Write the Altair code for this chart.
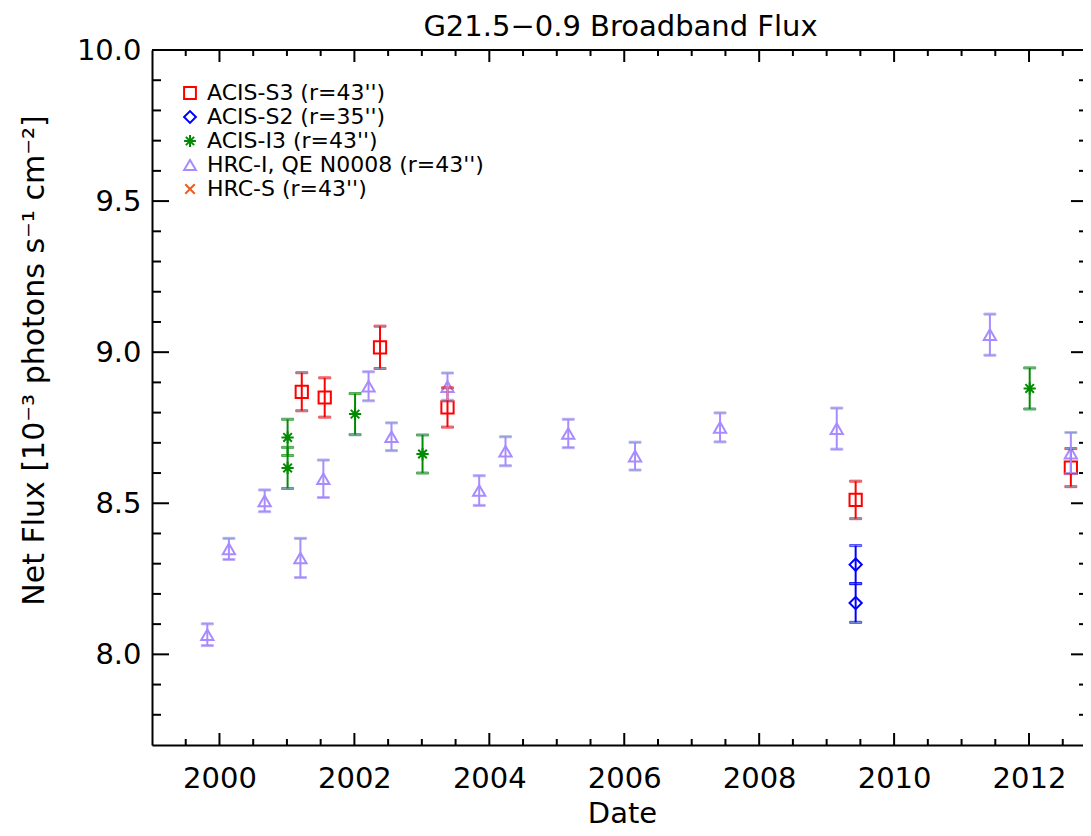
import altair as alt
import pandas as pd

# ---------------- data ----------------
series_names = ["ACIS-S3 (r=43'')", "ACIS-S2 (r=35'')", "ACIS-I3 (r=43'')",
                "HRC-I, QE N0008 (r=43'')", "HRC-S (r=43'')"]
series_colors = ["#ff0000", "#0000ff", "#008b00", "#a88cff", "#f05a1e"]
ASTERISK = "M-1,0L1,0M0,-1L0,1M-0.7,-0.7L0.7,0.7M-0.7,0.7L0.7,-0.7"
XMARK = "M-0.8,-0.8L0.8,0.8M-0.8,0.8L0.8,-0.8"
series_shapes = ["square", "diamond", ASTERISK, "triangle-up", XMARK]

s3_date = [2001.22, 2001.56, 2002.38, 2003.38, 2009.43, 2012.62]
s3_flux = [8.869, 8.850, 9.016, 8.817, 8.511, 8.618]
s3_err = [0.063, 0.065, 0.070, 0.065, 0.062, 0.063]

s2_date = [2009.43, 2009.43]
s2_flux = [8.297, 8.170]
s2_err = [0.063, 0.064]

i3_date = [2001.01, 2001.01, 2002.01, 2003.01, 2012.01]
i3_flux = [8.718, 8.617, 8.795, 8.663, 8.880]
i3_err = [0.060, 0.068, 0.068, 0.063, 0.068]

hrci_date = [1999.82, 2000.14, 2000.67, 2001.20, 2001.54, 2002.21, 2002.55, 2003.38,
             2003.85, 2004.24, 2005.17, 2006.16, 2007.42, 2009.15, 2011.42, 2012.62]
hrci_flux = [8.065, 8.349, 8.508, 8.319, 8.581, 8.887, 8.720, 8.886,
             8.542, 8.672, 8.731, 8.656, 8.751, 8.747, 9.058, 8.666]
hrci_err = [0.036, 0.035, 0.036, 0.065, 0.062, 0.048, 0.046, 0.045,
            0.049, 0.048, 0.047, 0.046, 0.048, 0.068, 0.068, 0.068]

x_major = [2000, 2002, 2004, 2006, 2008, 2010, 2012]
x_minor = [1999.5, 2000.5, 2001, 2001.5, 2002.5, 2003, 2003.5, 2004.5, 2005, 2005.5,
           2006.5, 2007, 2007.5, 2008.5, 2009, 2009.5, 2010.5, 2011, 2011.5, 2012.5]
y_major = [8.0, 8.5, 9.0, 9.5, 10.0]
y_minor = [7.8, 7.9, 8.1, 8.2, 8.3, 8.4, 8.6, 8.7, 8.8, 8.9,
           9.1, 9.2, 9.3, 9.4, 9.6, 9.7, 9.8, 9.9]

x_domain = [1999.0, 2012.80]
y_domain = [7.7, 10.0]

# ---------------- table ----------------
rows = []
for name, dates, flux, err in [
    (series_names[0], s3_date, s3_flux, s3_err),
    (series_names[1], s2_date, s2_flux, s2_err),
    (series_names[2], i3_date, i3_flux, i3_err),
    (series_names[3], hrci_date, hrci_flux, hrci_err),
]:
    for d, f, e in zip(dates, flux, err):
        rows.append({"series": name, "date": d, "flux": f, "lo": f - e, "hi": f + e})
df = pd.DataFrame(rows)

W, H = 931, 695
FONT = "DejaVu Sans"

x_scale = alt.Scale(domain=x_domain, nice=False, zero=False)
y_scale = alt.Scale(domain=y_domain, nice=False, zero=False)
color_scale = alt.Scale(domain=series_names, range=series_colors)
shape_scale = alt.Scale(domain=series_names, range=series_shapes)

legend = alt.Legend(
    title=None, orient="none", legendX=27, legendY=32,
    labelFont=FONT, labelFontSize=22, labelColor="black",
    symbolSize=140, symbolStrokeWidth=2, labelOffset=6, rowPadding=2,
    labelLimit=400,
)

x_axis = alt.Axis(
    values=x_major, format="d", ticks=False, tickSize=0, grid=False,
    domainColor="black", domainWidth=2, labelFont=FONT, labelFontSize=29,
    labelColor="black", labelPadding=19, labelFlush=False, labelOverlap=False,
    title="Date", titleFont=FONT, titleFontSize=29, titleFontWeight="normal",
    titleColor="black", titleX=470, titleY=77, titleBaseline="alphabetic",
)
y_axis = alt.Axis(
    values=y_major, format=".1f", ticks=False, tickSize=0, grid=False,
    domainColor="black", domainWidth=2, labelFont=FONT, labelFontSize=29,
    labelColor="black", labelPadding=11, labelFlush=False, labelOverlap=False,
    title="Net Flux [10⁻³ photons s⁻¹ cm⁻²]", titleFont=FONT, titleFontSize=30,
    titleFontWeight="normal", titleColor="black", titleAngle=270,
    titleX=-109, titleY=310, titleAlign="center", titleBaseline="alphabetic",
)


def vticks(vals, y0, y1):
    return alt.Chart(pd.DataFrame({"v": vals})).mark_rule(color="black", strokeWidth=2).encode(
        x=alt.X("v:Q", scale=x_scale, axis=x_axis), y=alt.value(y0), y2=alt.value(y1))


def hticks(vals, x0, x1):
    return alt.Chart(pd.DataFrame({"v": vals})).mark_rule(color="black", strokeWidth=2).encode(
        y=alt.Y("v:Q", scale=y_scale, axis=y_axis), x=alt.value(x0), x2=alt.value(x1))


tick_layers = [
    vticks(x_major, H, H - 12), vticks(x_minor, H, H - 6),
    vticks(x_major, 0, 12), vticks(x_minor, 0, 6),
    hticks(y_major, 0, 17), hticks(y_minor, 0, 9),
    hticks(y_major, W, W - 12), hticks(y_minor, W, W - 4),
]

top_line = alt.Chart(pd.DataFrame({"v": [0]})).mark_rule(color="black", strokeWidth=2).encode(
    x=alt.value(0), x2=alt.value(W), y=alt.value(0))

errbars = alt.Chart(df).mark_errorbar(ticks=True, size=12, thickness=2).encode(
    x=alt.X("date:Q", scale=x_scale, axis=x_axis),
    y=alt.Y("lo:Q", scale=y_scale, axis=y_axis),
    y2="hi:Q",
    stroke=alt.Stroke("series:N", scale=color_scale, legend=None),
)

points = alt.Chart(df).mark_point(filled=False, strokeWidth=2, size=150, opacity=1).encode(
    x=alt.X("date:Q", scale=x_scale, axis=x_axis),
    y=alt.Y("flux:Q", scale=y_scale, axis=y_axis),
    color=alt.Color("series:N", scale=color_scale, legend=legend),
    shape=alt.Shape("series:N", scale=shape_scale, legend=legend),
)

chart = alt.layer(points, errbars, *tick_layers, top_line).properties(
    width=W, height=H,
    title=alt.Title("G21.5−0.9 Broadband Flux", font=FONT, fontSize=29,
                    fontWeight="normal", color="black", offset=8, dx=3, dy=14),
    autosize=alt.AutoSizeParams(type="none"),
    padding={"left": 144, "top": 42, "right": 0, "bottom": 83},
).configure_view(stroke=None).configure(background="white")

chart.save("out.html", embed_options={"renderer": "svg", "actions": False})
